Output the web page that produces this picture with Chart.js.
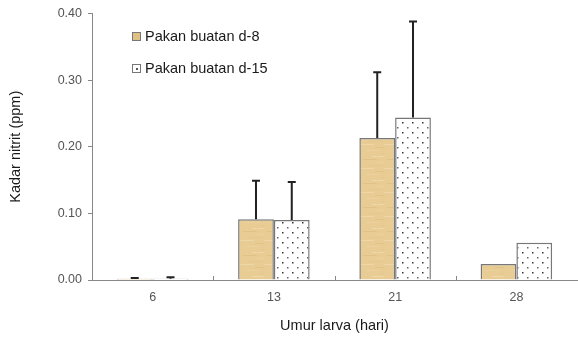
<!DOCTYPE html>
<html lang="en">
<head>
  <meta charset="UTF-8" />
  <title>Kadar nitrit</title>
  <script src="https://cdn.jsdelivr.net/npm/chart.js"></script>
  <style>
    body { margin: 0; background: #fff; }
    #wrap { width: 578px; height: 341px; position: relative; }
  </style>
</head>
<body>
<div id="wrap"><canvas id="nitritChart" width="578" height="341"></canvas></div>

<script>
  // data
  const categories = ['6', '13', '21', '28'];
  const seriesNames = ['Pakan buatan d-8', 'Pakan buatan d-15'];
  const d8Values = [0.002, 0.091, 0.213, 0.024];
  const d15Values = [0.002, 0.090, 0.244, 0.056];
  const d8Err = [0.001, 0.058, 0.099, 0];
  const d15Err = [0.002, 0.057, 0.144, 0];
  const yTicks = [0, 0.1, 0.2, 0.3, 0.4];

  const FONT = '"Liberation Sans", Arial, sans-serif';

  // tan "paper" texture
  function tanPattern(ctx) {
    const c = document.createElement('canvas');
    c.width = 24; c.height = 24;
    const p = c.getContext('2d');
    p.fillStyle = '#e8cc93';
    p.fillRect(0, 0, 24, 24);
    const shades = ['#eed8a8', '#e0c387', '#ebd29d', '#e4c78c'];
    for (let y = 0; y < 24; y += 3) {
      p.fillStyle = shades[(y / 3) % shades.length];
      p.fillRect((y * 5) % 24, y, 14, 1);
    }
    return ctx.createPattern(c, 'repeat');
  }

  // white with small staggered dots
  function dotPattern(ctx) {
    const c = document.createElement('canvas');
    c.width = 10; c.height = 10;
    const p = c.getContext('2d');
    p.fillStyle = '#ffffff';
    p.fillRect(0, 0, 10, 10);
    p.fillStyle = '#333';
    p.fillRect(2, 2, 1.5, 1.5);
    p.fillStyle = '#666';
    p.fillRect(7, 7, 1.5, 1.5);
    return ctx.createPattern(c, 'repeat');
  }

  const errors = [d8Err, d15Err];

  const errorBars = {
    id: 'errorBars',
    afterDatasetsDraw(chart) {
      const ctx = chart.ctx;
      const y = chart.scales.y;
      ctx.save();
      ctx.strokeStyle = '#222';
      ctx.lineWidth = 2;
      chart.data.datasets.forEach((ds, di) => {
        const meta = chart.getDatasetMeta(di);
        meta.data.forEach((bar, i) => {
          const e = errors[di][i];
          if (!e) return;
          const top = y.getPixelForValue(ds.data[i] + e);
          const base = y.getPixelForValue(ds.data[i]);
          ctx.beginPath();
          ctx.moveTo(bar.x, base);
          ctx.lineTo(bar.x, top);
          ctx.moveTo(bar.x - 4, top);
          ctx.lineTo(bar.x + 4, top);
          ctx.stroke();
        });
      });
      ctx.restore();
    }
  };

  // small inward tick marks between categories + legend
  const extras = {
    id: 'extras',
    afterDraw(chart) {
      const ctx = chart.ctx;
      const x = chart.scales.x;
      const area = chart.chartArea;
      ctx.save();
      ctx.strokeStyle = '#888';
      ctx.lineWidth = 1;
      const half = (x.getPixelForValue(1) - x.getPixelForValue(0)) / 2;
      for (let i = 0; i < categories.length - 1; i++) {
        const px = Math.round(x.getPixelForValue(i) + half) + 0.5;
        ctx.beginPath();
        ctx.moveTo(px, area.bottom);
        ctx.lineTo(px, area.bottom - 4);
        ctx.stroke();
      }

      // legend
      ctx.font = '14.5px ' + FONT;
      ctx.textBaseline = 'middle';
      chart.data.datasets.forEach((ds, i) => {
        const ly = 36 + i * 32;
        ctx.fillStyle = i === 0 ? '#e0c184' : '#ffffff';
        ctx.fillRect(132, ly - 4, 9, 9);
        ctx.strokeStyle = '#777';
        ctx.strokeRect(132.5, ly - 3.5, 8, 8);
        if (i === 1) {
          ctx.fillStyle = '#555';
          ctx.fillRect(136, ly, 2, 2);
        }
        ctx.fillStyle = '#1a1a1a';
        ctx.fillText(ds.label, 145, ly + 1);
      });
      ctx.restore();
    }
  };

  const canvas = document.getElementById('nitritChart');
  const ctx = canvas.getContext('2d');

  new Chart(ctx, {
    type: 'bar',
    data: {
      labels: categories,
      datasets: [{
        label: seriesNames[0],
        data: d8Values,
        backgroundColor: tanPattern(ctx),
        borderColor: '#777',
        borderWidth: 1.5,
        borderSkipped: 'bottom'
      }, {
        label: seriesNames[1],
        data: d15Values,
        backgroundColor: dotPattern(ctx),
        borderColor: '#777',
        borderWidth: 1.5,
        borderSkipped: 'bottom'
      }]
    },
    options: {
      responsive: false,
      animation: false,
      events: [],
      layout: { padding: { top: 11, right: 1, left: 0, bottom: 0 } },
      datasets: { bar: { categoryPercentage: 0.59, barPercentage: 1 } },
      plugins: {
        legend: { display: false },
        tooltip: { enabled: false }
      },
      scales: {
        x: {
          grid: { display: false, drawTicks: false },
          border: { color: '#888', width: 1 },
          ticks: {
            color: '#555',
            padding: 10,
            font: { family: FONT, size: 12.5 }
          },
          title: {
            display: true,
            text: 'Umur larva (hari)',
            color: '#1a1a1a',
            padding: { top: 0, bottom: 6 },
            font: { family: FONT, size: 14.5 }
          },
          afterFit(s) { s.height = 61; }
        },
        y: {
          min: 0,
          max: 0.4,
          afterBuildTicks(s) { s.ticks = yTicks.map(v => ({ value: v })); },
          grid: { drawOnChartArea: false, tickLength: 4, color: '#888' },
          border: { color: '#888', width: 1 },
          ticks: {
            color: '#555',
            padding: 6,
            callback: v => v.toFixed(2),
            font: { family: FONT, size: 12.5 }
          },
          title: {
            display: true,
            text: 'Kadar nitrit (ppm)',
            color: '#1a1a1a',
            padding: { top: 7, bottom: 0 },
            font: { family: FONT, size: 14.5 }
          },
          afterFit(s) { s.width = 92; }
        }
      }
    },
    plugins: [errorBars, extras]
  });
</script>
</body>
</html>
